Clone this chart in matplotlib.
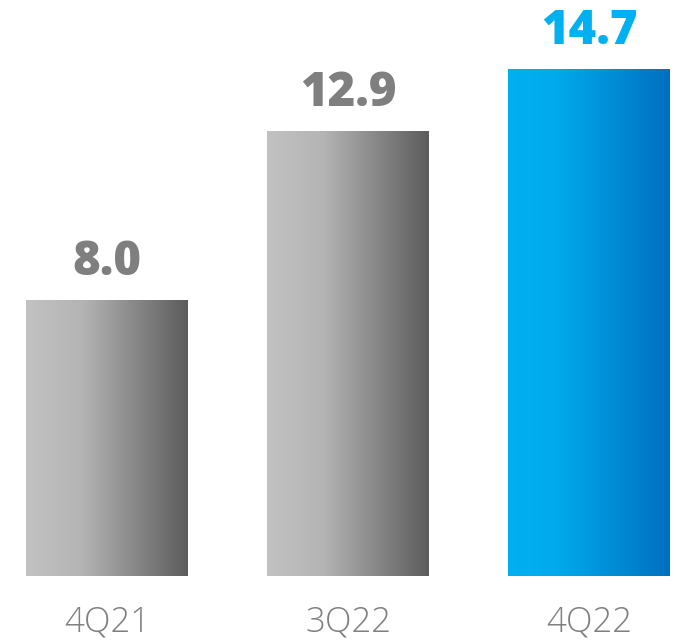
import numpy as np
import matplotlib
matplotlib.use("Agg")
import matplotlib.pyplot as plt
from matplotlib.colors import LinearSegmentedColormap

categories = ["4Q21", "3Q22", "4Q22"]
values = [8.0, 12.9, 14.7]
value_colors = ["#7f7f7f", "#7f7f7f", "#00b0f0"]

grey_cmap = LinearSegmentedColormap.from_list(
    "grey", [(0.0, "#c2c2c2"), (0.35, "#b4b4b4"), (1.0, "#5c5c5c")])
blue_cmap = LinearSegmentedColormap.from_list(
    "blue", [(0.0, "#00b0f0"), (0.3, "#00aaec"), (1.0, "#0070c0")])
bar_cmaps = [grey_cmap, grey_cmap, blue_cmap]

fig = plt.figure(figsize=(6.76, 6.43), dpi=100)
ax = fig.add_axes([0, 0, 1, 1])
ax.set_xlim(-0.444, 2.361)
ax.set_ylim(-1.942, 16.696)
ax.axis("off")

width = 0.672
x = np.arange(len(categories))
bars = ax.bar(x, values, width=width, color="none", edgecolor="none")

grad = np.linspace(0, 1, 256).reshape(1, -1)
for bar, cmap in zip(bars, bar_cmaps):
    x0, y0 = bar.get_x(), bar.get_y()
    x1, y1 = x0 + bar.get_width(), y0 + bar.get_height()
    im = ax.imshow(grad, cmap=cmap, aspect="auto", extent=[x0, x1, y0, y1],
                   interpolation="bicubic", zorder=2)
    im.set_clip_path(bar)

for xi, v, c in zip(x, values, value_colors):
    ax.text(xi, v + 0.72, f"{v:.1f}", ha="center", va="baseline",
            fontsize=34, fontweight="heavy", color=c, family="Open Sans")

for xi, cat in zip(x, categories):
    ax.text(xi, -1.62, cat, ha="center", va="baseline", fontsize=25,
            color="#808080", family="Open Sans", fontweight="light")

fig.savefig("out.png", dpi=100)
